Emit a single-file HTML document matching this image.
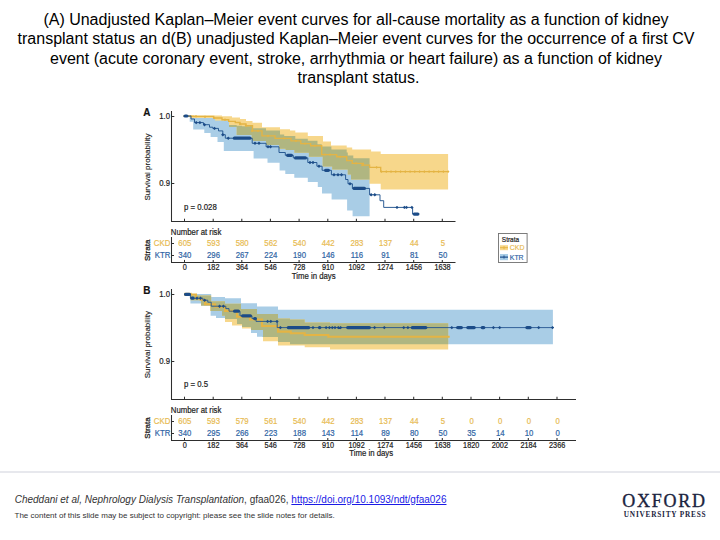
<!DOCTYPE html>
<html><head><meta charset="utf-8"><style>
html,body{margin:0;padding:0;background:#fff;}
body{width:720px;height:540px;position:relative;overflow:hidden;font-family:'Liberation Sans',sans-serif;}
#title{position:absolute;left:0;top:10.4px;width:712px;text-align:center;font-size:16px;line-height:19.1px;color:#000;}
#rule{position:absolute;left:0;top:471px;width:720px;height:2px;background:#e7e8ed;}
#cite{position:absolute;left:14.7px;top:494px;font-size:10px;line-height:12px;color:#333;white-space:nowrap;}
#cite a{color:#1a1ae6;text-decoration:underline;}
#note{position:absolute;left:14.5px;top:511px;font-size:8px;line-height:10px;color:#333;white-space:nowrap;}
#oup1{position:absolute;left:622.3px;top:491.6px;font-family:'Liberation Serif',serif;font-size:18px;line-height:18px;letter-spacing:1.75px;color:#1b2440;white-space:nowrap;-webkit-text-stroke:0.35px #1b2440;}
#oup2{position:absolute;left:623.8px;top:509.9px;font-family:'Liberation Serif',serif;font-size:7.3px;line-height:9px;letter-spacing:0.78px;color:#1b2440;white-space:nowrap;font-weight:bold;}
svg{position:absolute;left:0;top:0;}
</style></head><body>
<div id="title">(A) Unadjusted Kaplan–Meier event curves for all-cause mortality as a function of kidney<br>transplant status an d(B) unadjusted Kaplan–Meier event curves for the occurrence of a first CV<br>event (acute coronary event, stroke, arrhythmia or heart failure) as a function of kidney<br><span style="position:relative;left:2.5px">transplant status.</span></div>
<svg width="720" height="540" viewBox="0 0 720 540">
<defs><clipPath id="ca"><path d="M183.5,116.5 L190.0,116.5 L190.0,118.0 L215.0,118.0 L215.0,120.5 L229.0,120.5 L229.0,125.0 L236.7,125.0 L236.7,125.7 L242.0,125.7 L242.0,126.2 L250.0,126.2 L250.0,126.0 L253.0,126.0 L253.0,128.3 L266.0,128.3 L266.0,130.6 L280.0,130.6 L280.0,134.5 L284.2,134.5 L284.2,136.0 L295.3,136.0 L295.3,138.8 L307.8,138.8 L307.8,140.8 L317.5,140.8 L317.5,144.3 L321.7,144.3 L321.7,146.4 L331.4,146.4 L331.4,149.4 L346.7,149.4 L346.7,152.5 L347.8,152.5 L347.8,155.6 L353.3,155.6 L353.3,158.3 L369.6,158.3 L369.6,216.3 L352.6,216.3 L352.6,210.4 L347.1,210.4 L347.1,199.6 L331.6,199.6 L331.6,193.5 L322.0,193.5 L322.0,187.0 L317.8,187.0 L317.8,182.0 L307.8,182.0 L307.8,177.7 L294.3,177.7 L294.3,174.0 L285.3,174.0 L285.3,170.6 L279.6,170.6 L279.6,162.8 L267.5,162.8 L267.5,158.6 L253.6,158.6 L253.6,151.0 L223.8,151.0 L223.8,141.9 L217.5,141.9 L217.5,137.1 L210.6,137.1 L210.6,132.9 L204.3,132.9 L204.3,129.4 L193.2,129.4 L193.2,121.8 L189.7,121.8 L189.7,116.3 L183.5,116.3 Z"/></clipPath></defs>
<path d="M183.5,116.5 L190.0,116.5 L190.0,118.0 L215.0,118.0 L215.0,120.5 L229.0,120.5 L229.0,125.0 L236.7,125.0 L236.7,125.7 L242.0,125.7 L242.0,126.2 L250.0,126.2 L250.0,126.0 L253.0,126.0 L253.0,128.3 L266.0,128.3 L266.0,130.6 L280.0,130.6 L280.0,134.5 L284.2,134.5 L284.2,136.0 L295.3,136.0 L295.3,138.8 L307.8,138.8 L307.8,140.8 L317.5,140.8 L317.5,144.3 L321.7,144.3 L321.7,146.4 L331.4,146.4 L331.4,149.4 L346.7,149.4 L346.7,152.5 L347.8,152.5 L347.8,155.6 L353.3,155.6 L353.3,158.3 L369.6,158.3 L369.6,216.3 L352.6,216.3 L352.6,210.4 L347.1,210.4 L347.1,199.6 L331.6,199.6 L331.6,193.5 L322.0,193.5 L322.0,187.0 L317.8,187.0 L317.8,182.0 L307.8,182.0 L307.8,177.7 L294.3,177.7 L294.3,174.0 L285.3,174.0 L285.3,170.6 L279.6,170.6 L279.6,162.8 L267.5,162.8 L267.5,158.6 L253.6,158.6 L253.6,151.0 L223.8,151.0 L223.8,141.9 L217.5,141.9 L217.5,137.1 L210.6,137.1 L210.6,132.9 L204.3,132.9 L204.3,129.4 L193.2,129.4 L193.2,121.8 L189.7,121.8 L189.7,116.3 L183.5,116.3 Z" fill="#a9cde6"/>
<path d="M183.5,115.5 L210.0,115.5 L210.0,115.6 L222.0,115.6 L222.0,116.3 L232.0,116.3 L232.0,117.5 L240.0,117.5 L240.0,119.0 L246.0,119.0 L246.0,121.0 L252.5,121.0 L252.5,122.8 L262.0,122.8 L262.0,127.3 L280.0,127.3 L280.0,129.3 L290.0,129.3 L290.0,130.5 L295.3,130.5 L295.3,132.5 L307.8,132.5 L307.8,136.0 L323.0,136.0 L323.0,141.5 L331.0,141.5 L331.0,145.4 L346.7,145.4 L346.7,147.6 L352.2,147.6 L352.2,149.4 L371.1,149.4 L371.1,151.6 L380.7,151.6 L380.7,154.1 L448.1,154.1 L448.1,189.6 L380.7,189.6 L380.7,183.7 L369.6,183.7 L369.6,179.5 L351.0,179.5 L351.0,174.5 L347.8,174.5 L347.8,169.6 L332.2,169.6 L332.2,166.5 L322.7,166.5 L322.7,156.7 L308.9,156.7 L308.9,152.8 L294.4,152.8 L294.4,149.9 L285.6,149.9 L285.6,148.7 L279.2,148.7 L279.2,144.9 L266.0,144.9 L266.0,141.0 L253.0,141.0 L253.0,140.0 L251.7,140.0 L251.7,135.0 L236.7,135.0 L236.7,127.0 L229.0,127.0 L229.0,120.5 L215.0,120.5 L215.0,118.0 L190.0,118.0 L190.0,116.5 L183.5,116.5 Z" fill="#f7d78b"/>
<path d="M183.5,115.5 L210.0,115.5 L210.0,115.6 L222.0,115.6 L222.0,116.3 L232.0,116.3 L232.0,117.5 L240.0,117.5 L240.0,119.0 L246.0,119.0 L246.0,121.0 L252.5,121.0 L252.5,122.8 L262.0,122.8 L262.0,127.3 L280.0,127.3 L280.0,129.3 L290.0,129.3 L290.0,130.5 L295.3,130.5 L295.3,132.5 L307.8,132.5 L307.8,136.0 L323.0,136.0 L323.0,141.5 L331.0,141.5 L331.0,145.4 L346.7,145.4 L346.7,147.6 L352.2,147.6 L352.2,149.4 L371.1,149.4 L371.1,151.6 L380.7,151.6 L380.7,154.1 L448.1,154.1 L448.1,189.6 L380.7,189.6 L380.7,183.7 L369.6,183.7 L369.6,179.5 L351.0,179.5 L351.0,174.5 L347.8,174.5 L347.8,169.6 L332.2,169.6 L332.2,166.5 L322.7,166.5 L322.7,156.7 L308.9,156.7 L308.9,152.8 L294.4,152.8 L294.4,149.9 L285.6,149.9 L285.6,148.7 L279.2,148.7 L279.2,144.9 L266.0,144.9 L266.0,141.0 L253.0,141.0 L253.0,140.0 L251.7,140.0 L251.7,135.0 L236.7,135.0 L236.7,127.0 L229.0,127.0 L229.0,120.5 L215.0,120.5 L215.0,118.0 L190.0,118.0 L190.0,116.5 L183.5,116.5 Z" fill="#b0b681" clip-path="url(#ca)"/>
<path d="M183.5,116.2 L193.7,116.2 L193.7,116.3 L213.7,116.3 L213.7,118.0 L222.0,118.0 L222.0,119.7 L228.7,119.7 L228.7,121.3 L235.3,121.3 L235.3,122.5 L240.0,122.5 L240.0,124.0 L246.0,124.0 L246.0,125.7 L252.5,125.7 L252.5,130.9 L262.0,130.9 L262.0,135.8 L275.0,135.8 L275.0,138.4 L291.0,138.4 L291.0,140.8 L300.8,140.8 L300.8,143.6 L310.6,143.6 L310.6,145.7 L321.7,145.7 L321.7,154.6 L336.7,154.6 L336.7,156.7 L346.7,156.7 L346.7,160.6 L352.2,160.6 L352.2,163.3 L363.3,163.3 L363.3,165.1 L369.6,165.1 L369.6,167.4 L380.7,167.4 L380.7,171.6 L448.1,171.6" fill="none" stroke="#e4b444" stroke-width="1.35"/>
<path d="M189.65,116.30l1.35,-1.35l1.35,1.35l-1.35,1.35z M194.65,116.30l1.35,-1.35l1.35,1.35l-1.35,1.35z M203.65,116.80l1.35,-1.35l1.35,1.35l-1.35,1.35z M212.65,118.00l1.35,-1.35l1.35,1.35l-1.35,1.35z M223.65,119.70l1.35,-1.35l1.35,1.35l-1.35,1.35z M238.65,124.00l1.35,-1.35l1.35,1.35l-1.35,1.35z M244.65,125.70l1.35,-1.35l1.35,1.35l-1.35,1.35z M250.65,130.90l1.35,-1.35l1.35,1.35l-1.35,1.35z M256.65,130.90l1.35,-1.35l1.35,1.35l-1.35,1.35z M266.65,135.80l1.35,-1.35l1.35,1.35l-1.35,1.35z M282.65,138.40l1.35,-1.35l1.35,1.35l-1.35,1.35z M294.65,140.80l1.35,-1.35l1.35,1.35l-1.35,1.35z M303.65,143.60l1.35,-1.35l1.35,1.35l-1.35,1.35z M313.65,145.70l1.35,-1.35l1.35,1.35l-1.35,1.35z M323.65,154.60l1.35,-1.35l1.35,1.35l-1.35,1.35z M328.65,154.60l1.35,-1.35l1.35,1.35l-1.35,1.35z M338.65,156.70l1.35,-1.35l1.35,1.35l-1.35,1.35z M354.65,163.30l1.35,-1.35l1.35,1.35l-1.35,1.35z M360.85,165.10l1.35,-1.35l1.35,1.35l-1.35,1.35z M375.25,167.40l1.35,-1.35l1.35,1.35l-1.35,1.35z M380.15,171.60l1.35,-1.35l1.35,1.35l-1.35,1.35z M384.91,171.60l1.35,-1.35l1.35,1.35l-1.35,1.35z M389.67,171.60l1.35,-1.35l1.35,1.35l-1.35,1.35z M394.43,171.60l1.35,-1.35l1.35,1.35l-1.35,1.35z M399.19,171.60l1.35,-1.35l1.35,1.35l-1.35,1.35z M403.95,171.60l1.35,-1.35l1.35,1.35l-1.35,1.35z M408.71,171.60l1.35,-1.35l1.35,1.35l-1.35,1.35z M413.47,171.60l1.35,-1.35l1.35,1.35l-1.35,1.35z M418.23,171.60l1.35,-1.35l1.35,1.35l-1.35,1.35z M422.99,171.60l1.35,-1.35l1.35,1.35l-1.35,1.35z M427.75,171.60l1.35,-1.35l1.35,1.35l-1.35,1.35z M432.51,171.60l1.35,-1.35l1.35,1.35l-1.35,1.35z M437.27,171.60l1.35,-1.35l1.35,1.35l-1.35,1.35z M442.03,171.60l1.35,-1.35l1.35,1.35l-1.35,1.35z M446.79,171.60l1.35,-1.35l1.35,1.35l-1.35,1.35z" fill="#e4b444"/>
<path d="M183.5,116.0 L188.2,116.0 L188.2,116.0 L191.0,116.0 L191.0,119.0 L194.5,119.0 L194.5,122.6 L203.5,122.6 L203.5,124.7 L209.5,124.7 L209.5,127.2 L212.8,127.2 L212.8,128.4 L218.5,128.4 L218.5,130.9 L222.8,130.9 L222.8,134.7 L225.3,134.7 L225.3,138.2 L252.2,138.2 L252.2,143.3 L266.1,143.3 L266.1,146.8 L279.0,146.8 L279.0,152.5 L285.3,152.5 L285.3,155.3 L293.3,155.3 L293.3,157.9 L307.8,157.9 L307.8,162.5 L316.9,162.5 L316.9,166.2 L322.1,166.2 L322.1,170.3 L331.4,170.3 L331.4,174.8 L345.6,174.8 L345.6,179.5 L348.0,179.5 L348.0,183.8 L352.4,183.8 L352.4,188.4 L369.6,188.4 L369.6,194.8 L380.0,194.8 L380.0,200.7 L383.7,200.7 L383.7,207.4 L412.6,207.4 L412.6,214.1 L418.5,214.1" fill="none" stroke="#22548f" stroke-width="0.95"/>
<path d="M194.50,122.60l1.70,-1.70l1.70,1.70l-1.70,1.70z M198.20,122.60l1.70,-1.70l1.70,1.70l-1.70,1.70z M202.80,124.70l1.70,-1.70l1.70,1.70l-1.70,1.70z M212.80,128.40l1.70,-1.70l1.70,1.70l-1.70,1.70z M221.10,134.70l1.70,-1.70l1.70,1.70l-1.70,1.70z M226.55,138.20l1.70,-1.70l1.70,1.70l-1.70,1.70z M253.30,143.30l1.70,-1.70l1.70,1.70l-1.70,1.70z M257.30,143.30l1.70,-1.70l1.70,1.70l-1.70,1.70z M266.30,146.80l1.70,-1.70l1.70,1.70l-1.70,1.70z M268.80,146.80l1.70,-1.70l1.70,1.70l-1.70,1.70z M308.30,162.50l1.70,-1.70l1.70,1.70l-1.70,1.70z M311.30,162.50l1.70,-1.70l1.70,1.70l-1.70,1.70z M317.30,166.20l1.70,-1.70l1.70,1.70l-1.70,1.70z M332.30,174.80l1.70,-1.70l1.70,1.70l-1.70,1.70z M336.30,174.80l1.70,-1.70l1.70,1.70l-1.70,1.70z M339.80,174.80l1.70,-1.70l1.70,1.70l-1.70,1.70z M348.30,183.80l1.70,-1.70l1.70,1.70l-1.70,1.70z M369.40,194.80l1.70,-1.70l1.70,1.70l-1.70,1.70z M373.10,194.80l1.70,-1.70l1.70,1.70l-1.70,1.70z M395.30,207.40l1.70,-1.70l1.70,1.70l-1.70,1.70z M402.70,207.40l1.70,-1.70l1.70,1.70l-1.70,1.70z M404.80,207.40l1.70,-1.70l1.70,1.70l-1.70,1.70z M410.20,207.40l1.70,-1.70l1.70,1.70l-1.70,1.70z" fill="#1c4c88"/>
<rect x="183.5" y="114.4" width="5.0" height="3.2" rx="1.6" fill="#1c4c88"/>
<rect x="232.8" y="136.6" width="18.7" height="3.2" rx="1.6" fill="#1c4c88"/>
<rect x="286.0" y="153.7" width="7.0" height="3.2" rx="1.6" fill="#1c4c88"/>
<rect x="294.0" y="156.3" width="13.0" height="3.2" rx="1.6" fill="#1c4c88"/>
<rect x="324.0" y="168.7" width="6.0" height="3.2" rx="1.6" fill="#1c4c88"/>
<rect x="352.5" y="186.8" width="13.5" height="3.2" rx="1.6" fill="#1c4c88"/>
<rect x="412.6" y="212.5" width="6.9" height="3.2" rx="1.6" fill="#1c4c88"/>
<g stroke="#2e2e2e" stroke-width="1.05" fill="none">
<path d="M171.5,111 V221.5 H455.5"/>
<path d="M171.5,116.5 H174.3 M171.5,183.5 H174.3"/>
<path d="M184.5,221.5 V218.7"/>
<path d="M213.2,221.5 V218.7"/>
<path d="M241.8,221.5 V218.7"/>
<path d="M270.4,221.5 V218.7"/>
<path d="M299.1,221.5 V218.7"/>
<path d="M327.8,221.5 V218.7"/>
<path d="M356.4,221.5 V218.7"/>
<path d="M385.0,221.5 V218.7"/>
<path d="M413.7,221.5 V218.7"/>
<path d="M442.3,221.5 V218.7"/>
<path d="M171.5,237 V262.5 H455.5"/>
<path d="M171.5,243.5 H174 M171.5,255.5 H174"/>
<path d="M184.5,262.5 V259.9"/>
<path d="M213.2,262.5 V259.9"/>
<path d="M241.8,262.5 V259.9"/>
<path d="M270.4,262.5 V259.9"/>
<path d="M299.1,262.5 V259.9"/>
<path d="M327.8,262.5 V259.9"/>
<path d="M356.4,262.5 V259.9"/>
<path d="M385.0,262.5 V259.9"/>
<path d="M413.7,262.5 V259.9"/>
<path d="M442.3,262.5 V259.9"/>
</g>
<text transform="translate(170.00,119.20) scale(1,1.17)" font-family="'Liberation Sans',sans-serif" font-size="7.8" fill="#222" stroke="#222" stroke-width="0.18" text-anchor="end" font-weight="normal" >1.0</text>
<text transform="translate(170.00,185.80) scale(1,1.17)" font-family="'Liberation Sans',sans-serif" font-size="7.8" fill="#222" stroke="#222" stroke-width="0.18" text-anchor="end" font-weight="normal" >0.9</text>
<text transform="translate(184.10,209.60) scale(1,1.17)" font-family="'Liberation Sans',sans-serif" font-size="7.8" fill="#222" stroke="#222" stroke-width="0.18" text-anchor="start" font-weight="normal" >p = 0.028</text>
<text transform="translate(170.80,234.80) scale(1,1.17)" font-family="'Liberation Sans',sans-serif" font-size="7.8" fill="#222" stroke="#222" stroke-width="0.18" text-anchor="start" font-weight="normal" >Number at risk</text>
<text transform="translate(149.9,167) rotate(-90)" text-anchor="middle" font-family="'Liberation Sans',sans-serif" font-size="8" fill="#222" stroke="#222" stroke-width="0.15">Survival probability</text>
<text transform="translate(149.7,250.3) rotate(-90)" text-anchor="middle" font-family="'Liberation Sans',sans-serif" font-size="8" fill="#222" stroke="#222" stroke-width="0.3">Strata</text>
<text transform="translate(184.70,270.20) scale(1,1.25)" font-family="'Liberation Sans',sans-serif" font-size="7.3" fill="#222" stroke="#222" stroke-width="0.18" text-anchor="middle" font-weight="normal" >0</text>
<text transform="translate(213.35,270.20) scale(1,1.25)" font-family="'Liberation Sans',sans-serif" font-size="7.3" fill="#222" stroke="#222" stroke-width="0.18" text-anchor="middle" font-weight="normal" >182</text>
<text transform="translate(242.00,270.20) scale(1,1.25)" font-family="'Liberation Sans',sans-serif" font-size="7.3" fill="#222" stroke="#222" stroke-width="0.18" text-anchor="middle" font-weight="normal" >364</text>
<text transform="translate(270.65,270.20) scale(1,1.25)" font-family="'Liberation Sans',sans-serif" font-size="7.3" fill="#222" stroke="#222" stroke-width="0.18" text-anchor="middle" font-weight="normal" >546</text>
<text transform="translate(299.30,270.20) scale(1,1.25)" font-family="'Liberation Sans',sans-serif" font-size="7.3" fill="#222" stroke="#222" stroke-width="0.18" text-anchor="middle" font-weight="normal" >728</text>
<text transform="translate(327.95,270.20) scale(1,1.25)" font-family="'Liberation Sans',sans-serif" font-size="7.3" fill="#222" stroke="#222" stroke-width="0.18" text-anchor="middle" font-weight="normal" >910</text>
<text transform="translate(356.60,270.20) scale(1,1.25)" font-family="'Liberation Sans',sans-serif" font-size="7.3" fill="#222" stroke="#222" stroke-width="0.18" text-anchor="middle" font-weight="normal" >1092</text>
<text transform="translate(385.25,270.20) scale(1,1.25)" font-family="'Liberation Sans',sans-serif" font-size="7.3" fill="#222" stroke="#222" stroke-width="0.18" text-anchor="middle" font-weight="normal" >1274</text>
<text transform="translate(413.90,270.20) scale(1,1.25)" font-family="'Liberation Sans',sans-serif" font-size="7.3" fill="#222" stroke="#222" stroke-width="0.18" text-anchor="middle" font-weight="normal" >1456</text>
<text transform="translate(442.55,270.20) scale(1,1.25)" font-family="'Liberation Sans',sans-serif" font-size="7.3" fill="#222" stroke="#222" stroke-width="0.18" text-anchor="middle" font-weight="normal" >1638</text>
<text transform="translate(291.80,278.70) scale(1,1.17)" font-family="'Liberation Sans',sans-serif" font-size="7.8" fill="#222" stroke="#222" stroke-width="0.18" text-anchor="start" font-weight="normal" >Time in days</text>
<text transform="translate(143.30,115.90) scale(1,1.12)" font-family="'Liberation Sans',sans-serif" font-size="10" fill="#111" stroke="#111" stroke-width="0.18" text-anchor="start" font-weight="bold" >A</text>
<text transform="translate(170.30,246.30) scale(1,1.17)" font-family="'Liberation Sans',sans-serif" font-size="7.8" fill="#e8bb52" stroke="#e8bb52" stroke-width="0.18" text-anchor="end" font-weight="normal" >CKD</text>
<text transform="translate(170.30,258.10) scale(1,1.17)" font-family="'Liberation Sans',sans-serif" font-size="7.8" fill="#3065a5" stroke="#3065a5" stroke-width="0.18" text-anchor="end" font-weight="normal" >KTR</text>
<text transform="translate(184.80,246.30) scale(1,1.17)" font-family="'Liberation Sans',sans-serif" font-size="7.8" fill="#e8bb52" stroke="#e8bb52" stroke-width="0.18" text-anchor="middle" font-weight="normal" >605</text>
<text transform="translate(213.48,246.30) scale(1,1.17)" font-family="'Liberation Sans',sans-serif" font-size="7.8" fill="#e8bb52" stroke="#e8bb52" stroke-width="0.18" text-anchor="middle" font-weight="normal" >593</text>
<text transform="translate(242.16,246.30) scale(1,1.17)" font-family="'Liberation Sans',sans-serif" font-size="7.8" fill="#e8bb52" stroke="#e8bb52" stroke-width="0.18" text-anchor="middle" font-weight="normal" >580</text>
<text transform="translate(270.84,246.30) scale(1,1.17)" font-family="'Liberation Sans',sans-serif" font-size="7.8" fill="#e8bb52" stroke="#e8bb52" stroke-width="0.18" text-anchor="middle" font-weight="normal" >562</text>
<text transform="translate(299.52,246.30) scale(1,1.17)" font-family="'Liberation Sans',sans-serif" font-size="7.8" fill="#e8bb52" stroke="#e8bb52" stroke-width="0.18" text-anchor="middle" font-weight="normal" >540</text>
<text transform="translate(328.20,246.30) scale(1,1.17)" font-family="'Liberation Sans',sans-serif" font-size="7.8" fill="#e8bb52" stroke="#e8bb52" stroke-width="0.18" text-anchor="middle" font-weight="normal" >442</text>
<text transform="translate(356.88,246.30) scale(1,1.17)" font-family="'Liberation Sans',sans-serif" font-size="7.8" fill="#e8bb52" stroke="#e8bb52" stroke-width="0.18" text-anchor="middle" font-weight="normal" >283</text>
<text transform="translate(385.56,246.30) scale(1,1.17)" font-family="'Liberation Sans',sans-serif" font-size="7.8" fill="#e8bb52" stroke="#e8bb52" stroke-width="0.18" text-anchor="middle" font-weight="normal" >137</text>
<text transform="translate(414.24,246.30) scale(1,1.17)" font-family="'Liberation Sans',sans-serif" font-size="7.8" fill="#e8bb52" stroke="#e8bb52" stroke-width="0.18" text-anchor="middle" font-weight="normal" >44</text>
<text transform="translate(442.92,246.30) scale(1,1.17)" font-family="'Liberation Sans',sans-serif" font-size="7.8" fill="#e8bb52" stroke="#e8bb52" stroke-width="0.18" text-anchor="middle" font-weight="normal" >5</text>
<text transform="translate(184.80,258.10) scale(1,1.17)" font-family="'Liberation Sans',sans-serif" font-size="7.8" fill="#3065a5" stroke="#3065a5" stroke-width="0.18" text-anchor="middle" font-weight="normal" >340</text>
<text transform="translate(213.48,258.10) scale(1,1.17)" font-family="'Liberation Sans',sans-serif" font-size="7.8" fill="#3065a5" stroke="#3065a5" stroke-width="0.18" text-anchor="middle" font-weight="normal" >296</text>
<text transform="translate(242.16,258.10) scale(1,1.17)" font-family="'Liberation Sans',sans-serif" font-size="7.8" fill="#3065a5" stroke="#3065a5" stroke-width="0.18" text-anchor="middle" font-weight="normal" >267</text>
<text transform="translate(270.84,258.10) scale(1,1.17)" font-family="'Liberation Sans',sans-serif" font-size="7.8" fill="#3065a5" stroke="#3065a5" stroke-width="0.18" text-anchor="middle" font-weight="normal" >224</text>
<text transform="translate(299.52,258.10) scale(1,1.17)" font-family="'Liberation Sans',sans-serif" font-size="7.8" fill="#3065a5" stroke="#3065a5" stroke-width="0.18" text-anchor="middle" font-weight="normal" >190</text>
<text transform="translate(328.20,258.10) scale(1,1.17)" font-family="'Liberation Sans',sans-serif" font-size="7.8" fill="#3065a5" stroke="#3065a5" stroke-width="0.18" text-anchor="middle" font-weight="normal" >146</text>
<text transform="translate(356.88,258.10) scale(1,1.17)" font-family="'Liberation Sans',sans-serif" font-size="7.8" fill="#3065a5" stroke="#3065a5" stroke-width="0.18" text-anchor="middle" font-weight="normal" >116</text>
<text transform="translate(385.56,258.10) scale(1,1.17)" font-family="'Liberation Sans',sans-serif" font-size="7.8" fill="#3065a5" stroke="#3065a5" stroke-width="0.18" text-anchor="middle" font-weight="normal" >91</text>
<text transform="translate(414.24,258.10) scale(1,1.17)" font-family="'Liberation Sans',sans-serif" font-size="7.8" fill="#3065a5" stroke="#3065a5" stroke-width="0.18" text-anchor="middle" font-weight="normal" >81</text>
<text transform="translate(442.92,258.10) scale(1,1.17)" font-family="'Liberation Sans',sans-serif" font-size="7.8" fill="#3065a5" stroke="#3065a5" stroke-width="0.18" text-anchor="middle" font-weight="normal" >50</text>
<rect x="498.5" y="233.5" width="28.6" height="29" fill="#fff" stroke="#707070" stroke-width="0.9"/>
<text transform="translate(501.80,241.80) scale(1,1.12)" font-family="'Liberation Sans',sans-serif" font-size="6.5" fill="#222" stroke="#222" stroke-width="0.18" text-anchor="start" font-weight="normal" >Strata</text>
<rect x="500" y="245.2" width="8" height="5" fill="#f7d78b"/>
<path d="M500,247.7 H508 M504,246.2 V249.2" stroke="#e4b444" stroke-width="1"/>
<rect x="500" y="254" width="8" height="6.2" fill="#a9cde6"/>
<path d="M500,257.1 H508 M504,255.6 V258.6" stroke="#22548f" stroke-width="1.1"/>
<text transform="translate(509.80,250.10) scale(1,1.1)" font-family="'Liberation Sans',sans-serif" font-size="6.9" fill="#e8bb52" stroke="#e8bb52" stroke-width="0.18" text-anchor="start" font-weight="normal" >CKD</text>
<text transform="translate(509.80,259.90) scale(1,1.15)" font-family="'Liberation Sans',sans-serif" font-size="6.9" fill="#3065a5" stroke="#3065a5" stroke-width="0.18" text-anchor="start" font-weight="normal" >KTR</text>
<defs><clipPath id="cb"><path d="M184.0,294.0 L190.4,294.0 L190.4,293.9 L211.2,293.9 L211.2,297.0 L225.0,297.0 L225.0,298.2 L241.0,298.2 L241.0,303.3 L257.0,303.3 L257.0,306.6 L278.0,306.6 L278.0,309.8 L552.9,309.8 L552.9,344.2 L290.0,344.2 L290.0,342.0 L278.0,342.0 L278.0,337.0 L262.0,337.0 L262.0,336.7 L257.0,336.7 L257.0,333.0 L251.0,333.0 L251.0,327.0 L242.0,327.0 L242.0,324.0 L237.0,324.0 L237.0,319.0 L225.0,319.0 L225.0,317.9 L216.0,317.9 L216.0,315.8 L210.6,315.8 L210.6,306.0 L201.0,306.0 L201.0,303.6 L190.4,303.6 L190.4,295.5 L184.0,295.5 Z"/></clipPath></defs>
<path d="M184.0,294.0 L190.4,294.0 L190.4,293.9 L211.2,293.9 L211.2,297.0 L225.0,297.0 L225.0,298.2 L241.0,298.2 L241.0,303.3 L257.0,303.3 L257.0,306.6 L278.0,306.6 L278.0,309.8 L552.9,309.8 L552.9,344.2 L290.0,344.2 L290.0,342.0 L278.0,342.0 L278.0,337.0 L262.0,337.0 L262.0,336.7 L257.0,336.7 L257.0,333.0 L251.0,333.0 L251.0,327.0 L242.0,327.0 L242.0,324.0 L237.0,324.0 L237.0,319.0 L225.0,319.0 L225.0,317.9 L216.0,317.9 L216.0,315.8 L210.6,315.8 L210.6,306.0 L201.0,306.0 L201.0,303.6 L190.4,303.6 L190.4,295.5 L184.0,295.5 Z" fill="#a9cde6"/>
<path d="M184.0,292.8 L192.0,292.8 L192.0,295.5 L200.0,295.5 L200.0,295.6 L211.2,295.6 L211.2,301.2 L225.0,301.2 L225.0,303.8 L241.0,303.8 L241.0,308.9 L257.0,308.9 L257.0,314.0 L278.0,314.0 L278.0,318.6 L290.0,318.6 L290.0,319.4 L304.7,319.4 L304.7,322.5 L330.0,322.5 L330.0,323.3 L448.2,323.3 L448.2,349.5 L330.0,349.5 L330.0,347.2 L304.7,347.2 L304.7,345.5 L278.0,345.5 L278.0,341.3 L263.0,341.3 L263.0,330.0 L251.0,330.0 L251.0,328.5 L242.0,328.5 L242.0,325.6 L232.0,325.6 L232.0,321.9 L225.0,321.9 L225.0,315.8 L222.0,315.8 L222.0,310.9 L210.0,310.9 L210.0,305.4 L201.0,305.4 L201.0,300.2 L190.4,300.2 L190.4,295.5 L184.0,295.5 Z" fill="#f7d78b"/>
<path d="M184.0,292.8 L192.0,292.8 L192.0,295.5 L200.0,295.5 L200.0,295.6 L211.2,295.6 L211.2,301.2 L225.0,301.2 L225.0,303.8 L241.0,303.8 L241.0,308.9 L257.0,308.9 L257.0,314.0 L278.0,314.0 L278.0,318.6 L290.0,318.6 L290.0,319.4 L304.7,319.4 L304.7,322.5 L330.0,322.5 L330.0,323.3 L448.2,323.3 L448.2,349.5 L330.0,349.5 L330.0,347.2 L304.7,347.2 L304.7,345.5 L278.0,345.5 L278.0,341.3 L263.0,341.3 L263.0,330.0 L251.0,330.0 L251.0,328.5 L242.0,328.5 L242.0,325.6 L232.0,325.6 L232.0,321.9 L225.0,321.9 L225.0,315.8 L222.0,315.8 L222.0,310.9 L210.0,310.9 L210.0,305.4 L201.0,305.4 L201.0,300.2 L190.4,300.2 L190.4,295.5 L184.0,295.5 Z" fill="#b0b681" clip-path="url(#cb)"/>
<path d="M184.0,294.5 L196.0,294.5 L196.0,298.5 L200.8,298.5 L200.8,299.8 L205.0,299.8 L205.0,304.3 L215.0,304.3 L215.0,306.8 L225.0,306.8 L225.0,310.9 L237.0,310.9 L237.0,316.8 L250.0,316.8 L250.0,319.5 L262.0,319.5 L262.0,326.0 L278.0,326.0 L278.0,331.6 L290.8,331.6 L290.8,333.3 L304.7,333.3 L304.7,335.0 L328.3,335.0 L328.3,336.8 L449.7,336.8" fill="none" stroke="#e4b444" stroke-width="2.1"/>
<path d="M184.0,294.3 L190.4,294.3 L190.4,298.2 L202.9,298.2 L202.9,300.2 L207.8,300.2 L207.8,302.2 L211.2,302.2 L211.2,306.2 L225.8,306.2 L225.8,308.6 L229.0,308.6 L229.0,311.2 L240.0,311.2 L240.0,315.8 L252.0,315.8 L252.0,318.6 L256.0,318.6 L256.0,321.4 L277.2,321.4 L277.2,327.6 L553.8,327.6" fill="none" stroke="#22548f" stroke-width="0.9"/>
<path d="M195.30,298.20l1.70,-1.70l1.70,1.70l-1.70,1.70z M198.80,298.20l1.70,-1.70l1.70,1.70l-1.70,1.70z M203.00,300.20l1.70,-1.70l1.70,1.70l-1.70,1.70z M217.90,306.20l1.70,-1.70l1.70,1.70l-1.70,1.70z M221.70,306.20l1.70,-1.70l1.70,1.70l-1.70,1.70z M265.90,321.40l1.70,-1.70l1.70,1.70l-1.70,1.70z M269.10,321.40l1.70,-1.70l1.70,1.70l-1.70,1.70z M275.30,321.40l1.70,-1.70l1.70,1.70l-1.70,1.70z M278.70,327.60l1.70,-1.70l1.70,1.70l-1.70,1.70z M311.30,327.60l1.70,-1.70l1.70,1.70l-1.70,1.70z M324.40,327.60l1.70,-1.70l1.70,1.70l-1.70,1.70z M327.70,327.60l1.70,-1.70l1.70,1.70l-1.70,1.70z M330.60,327.60l1.70,-1.70l1.70,1.70l-1.70,1.70z M333.30,327.60l1.70,-1.70l1.70,1.70l-1.70,1.70z M336.60,327.60l1.70,-1.70l1.70,1.70l-1.70,1.70z M338.90,327.60l1.70,-1.70l1.70,1.70l-1.70,1.70z M372.90,327.60l1.70,-1.70l1.70,1.70l-1.70,1.70z M382.60,327.60l1.70,-1.70l1.70,1.70l-1.70,1.70z M402.05,327.60l1.70,-1.70l1.70,1.70l-1.70,1.70z M406.20,327.60l1.70,-1.70l1.70,1.70l-1.70,1.70z M450.10,327.60l1.70,-1.70l1.70,1.70l-1.70,1.70z M455.50,327.60l1.70,-1.70l1.70,1.70l-1.70,1.70z M491.70,327.60l1.70,-1.70l1.70,1.70l-1.70,1.70z M498.00,327.60l1.70,-1.70l1.70,1.70l-1.70,1.70z M537.00,327.60l1.70,-1.70l1.70,1.70l-1.70,1.70z M550.80,327.60l1.70,-1.70l1.70,1.70l-1.70,1.70z" fill="#1c4c88"/>
<rect x="184.0" y="292.7" width="7.0" height="3.2" rx="1.6" fill="#1c4c88"/>
<rect x="190.4" y="296.6" width="4.2" height="3.2" rx="1.6" fill="#1c4c88"/>
<rect x="233.0" y="309.6" width="7.0" height="3.2" rx="1.6" fill="#1c4c88"/>
<rect x="241.0" y="314.2" width="11.0" height="3.2" rx="1.6" fill="#1c4c88"/>
<rect x="253.0" y="317.0" width="4.0" height="3.2" rx="1.6" fill="#1c4c88"/>
<rect x="286.7" y="326.0" width="23.6" height="3.2" rx="1.6" fill="#1c4c88"/>
<rect x="317.9" y="326.0" width="3.5" height="3.2" rx="1.6" fill="#1c4c88"/>
<rect x="346.1" y="326.0" width="24.9" height="3.2" rx="1.6" fill="#1c4c88"/>
<rect x="410.7" y="326.0" width="16.7" height="3.2" rx="1.6" fill="#1c4c88"/>
<rect x="456.6" y="326.0" width="6.4" height="3.2" rx="1.6" fill="#1c4c88"/>
<rect x="466.2" y="326.0" width="9.6" height="3.2" rx="1.6" fill="#1c4c88"/>
<rect x="480.6" y="326.0" width="4.8" height="3.2" rx="1.6" fill="#1c4c88"/>
<rect x="525.3" y="326.0" width="6.4" height="3.2" rx="1.6" fill="#1c4c88"/>
<g stroke="#2e2e2e" stroke-width="1.05" fill="none">
<path d="M171.5,289 V399.5 H576"/>
<path d="M171.5,294.5 H174.3 M171.5,361.5 H174.3"/>
<path d="M184.5,399.5 V396.7"/>
<path d="M213.2,399.5 V396.7"/>
<path d="M241.8,399.5 V396.7"/>
<path d="M270.4,399.5 V396.7"/>
<path d="M299.1,399.5 V396.7"/>
<path d="M327.8,399.5 V396.7"/>
<path d="M356.4,399.5 V396.7"/>
<path d="M385.0,399.5 V396.7"/>
<path d="M413.7,399.5 V396.7"/>
<path d="M442.3,399.5 V396.7"/>
<path d="M471.0,399.5 V396.7"/>
<path d="M499.6,399.5 V396.7"/>
<path d="M528.3,399.5 V396.7"/>
<path d="M557.0,399.5 V396.7"/>
<path d="M171.5,415 V440.5 H576"/>
<path d="M171.5,421.5 H174 M171.5,433.5 H174"/>
<path d="M184.5,440.5 V437.9"/>
<path d="M213.2,440.5 V437.9"/>
<path d="M241.8,440.5 V437.9"/>
<path d="M270.4,440.5 V437.9"/>
<path d="M299.1,440.5 V437.9"/>
<path d="M327.8,440.5 V437.9"/>
<path d="M356.4,440.5 V437.9"/>
<path d="M385.0,440.5 V437.9"/>
<path d="M413.7,440.5 V437.9"/>
<path d="M442.3,440.5 V437.9"/>
<path d="M471.0,440.5 V437.9"/>
<path d="M499.6,440.5 V437.9"/>
<path d="M528.3,440.5 V437.9"/>
<path d="M557.0,440.5 V437.9"/>
</g>
<text transform="translate(170.00,296.90) scale(1,1.17)" font-family="'Liberation Sans',sans-serif" font-size="7.8" fill="#222" stroke="#222" stroke-width="0.18" text-anchor="end" font-weight="normal" >1.0</text>
<text transform="translate(170.00,363.50) scale(1,1.17)" font-family="'Liberation Sans',sans-serif" font-size="7.8" fill="#222" stroke="#222" stroke-width="0.18" text-anchor="end" font-weight="normal" >0.9</text>
<text transform="translate(184.10,387.30) scale(1,1.17)" font-family="'Liberation Sans',sans-serif" font-size="7.8" fill="#222" stroke="#222" stroke-width="0.18" text-anchor="start" font-weight="normal" >p = 0.5</text>
<text transform="translate(170.80,412.50) scale(1,1.17)" font-family="'Liberation Sans',sans-serif" font-size="7.8" fill="#222" stroke="#222" stroke-width="0.18" text-anchor="start" font-weight="normal" >Number at risk</text>
<text transform="translate(149.9,344.7) rotate(-90)" text-anchor="middle" font-family="'Liberation Sans',sans-serif" font-size="8" fill="#222" stroke="#222" stroke-width="0.15">Survival probability</text>
<text transform="translate(149.7,428.0) rotate(-90)" text-anchor="middle" font-family="'Liberation Sans',sans-serif" font-size="8" fill="#222" stroke="#222" stroke-width="0.3">Strata</text>
<text transform="translate(184.70,447.90) scale(1,1.25)" font-family="'Liberation Sans',sans-serif" font-size="7.3" fill="#222" stroke="#222" stroke-width="0.18" text-anchor="middle" font-weight="normal" >0</text>
<text transform="translate(213.35,447.90) scale(1,1.25)" font-family="'Liberation Sans',sans-serif" font-size="7.3" fill="#222" stroke="#222" stroke-width="0.18" text-anchor="middle" font-weight="normal" >182</text>
<text transform="translate(242.00,447.90) scale(1,1.25)" font-family="'Liberation Sans',sans-serif" font-size="7.3" fill="#222" stroke="#222" stroke-width="0.18" text-anchor="middle" font-weight="normal" >364</text>
<text transform="translate(270.65,447.90) scale(1,1.25)" font-family="'Liberation Sans',sans-serif" font-size="7.3" fill="#222" stroke="#222" stroke-width="0.18" text-anchor="middle" font-weight="normal" >546</text>
<text transform="translate(299.30,447.90) scale(1,1.25)" font-family="'Liberation Sans',sans-serif" font-size="7.3" fill="#222" stroke="#222" stroke-width="0.18" text-anchor="middle" font-weight="normal" >728</text>
<text transform="translate(327.95,447.90) scale(1,1.25)" font-family="'Liberation Sans',sans-serif" font-size="7.3" fill="#222" stroke="#222" stroke-width="0.18" text-anchor="middle" font-weight="normal" >910</text>
<text transform="translate(356.60,447.90) scale(1,1.25)" font-family="'Liberation Sans',sans-serif" font-size="7.3" fill="#222" stroke="#222" stroke-width="0.18" text-anchor="middle" font-weight="normal" >1092</text>
<text transform="translate(385.25,447.90) scale(1,1.25)" font-family="'Liberation Sans',sans-serif" font-size="7.3" fill="#222" stroke="#222" stroke-width="0.18" text-anchor="middle" font-weight="normal" >1274</text>
<text transform="translate(413.90,447.90) scale(1,1.25)" font-family="'Liberation Sans',sans-serif" font-size="7.3" fill="#222" stroke="#222" stroke-width="0.18" text-anchor="middle" font-weight="normal" >1456</text>
<text transform="translate(442.55,447.90) scale(1,1.25)" font-family="'Liberation Sans',sans-serif" font-size="7.3" fill="#222" stroke="#222" stroke-width="0.18" text-anchor="middle" font-weight="normal" >1638</text>
<text transform="translate(471.20,447.90) scale(1,1.25)" font-family="'Liberation Sans',sans-serif" font-size="7.3" fill="#222" stroke="#222" stroke-width="0.18" text-anchor="middle" font-weight="normal" >1820</text>
<text transform="translate(499.85,447.90) scale(1,1.25)" font-family="'Liberation Sans',sans-serif" font-size="7.3" fill="#222" stroke="#222" stroke-width="0.18" text-anchor="middle" font-weight="normal" >2002</text>
<text transform="translate(528.50,447.90) scale(1,1.25)" font-family="'Liberation Sans',sans-serif" font-size="7.3" fill="#222" stroke="#222" stroke-width="0.18" text-anchor="middle" font-weight="normal" >2184</text>
<text transform="translate(557.15,447.90) scale(1,1.25)" font-family="'Liberation Sans',sans-serif" font-size="7.3" fill="#222" stroke="#222" stroke-width="0.18" text-anchor="middle" font-weight="normal" >2366</text>
<text transform="translate(349.30,456.40) scale(1,1.17)" font-family="'Liberation Sans',sans-serif" font-size="7.8" fill="#222" stroke="#222" stroke-width="0.18" text-anchor="start" font-weight="normal" >Time in days</text>
<text transform="translate(143.30,294.20) scale(1,1.12)" font-family="'Liberation Sans',sans-serif" font-size="10" fill="#111" stroke="#111" stroke-width="0.18" text-anchor="start" font-weight="bold" >B</text>
<text transform="translate(170.30,424.00) scale(1,1.17)" font-family="'Liberation Sans',sans-serif" font-size="7.8" fill="#e8bb52" stroke="#e8bb52" stroke-width="0.18" text-anchor="end" font-weight="normal" >CKD</text>
<text transform="translate(170.30,435.80) scale(1,1.17)" font-family="'Liberation Sans',sans-serif" font-size="7.8" fill="#3065a5" stroke="#3065a5" stroke-width="0.18" text-anchor="end" font-weight="normal" >KTR</text>
<text transform="translate(184.80,424.00) scale(1,1.17)" font-family="'Liberation Sans',sans-serif" font-size="7.8" fill="#e8bb52" stroke="#e8bb52" stroke-width="0.18" text-anchor="middle" font-weight="normal" >605</text>
<text transform="translate(213.48,424.00) scale(1,1.17)" font-family="'Liberation Sans',sans-serif" font-size="7.8" fill="#e8bb52" stroke="#e8bb52" stroke-width="0.18" text-anchor="middle" font-weight="normal" >593</text>
<text transform="translate(242.16,424.00) scale(1,1.17)" font-family="'Liberation Sans',sans-serif" font-size="7.8" fill="#e8bb52" stroke="#e8bb52" stroke-width="0.18" text-anchor="middle" font-weight="normal" >579</text>
<text transform="translate(270.84,424.00) scale(1,1.17)" font-family="'Liberation Sans',sans-serif" font-size="7.8" fill="#e8bb52" stroke="#e8bb52" stroke-width="0.18" text-anchor="middle" font-weight="normal" >561</text>
<text transform="translate(299.52,424.00) scale(1,1.17)" font-family="'Liberation Sans',sans-serif" font-size="7.8" fill="#e8bb52" stroke="#e8bb52" stroke-width="0.18" text-anchor="middle" font-weight="normal" >540</text>
<text transform="translate(328.20,424.00) scale(1,1.17)" font-family="'Liberation Sans',sans-serif" font-size="7.8" fill="#e8bb52" stroke="#e8bb52" stroke-width="0.18" text-anchor="middle" font-weight="normal" >442</text>
<text transform="translate(356.88,424.00) scale(1,1.17)" font-family="'Liberation Sans',sans-serif" font-size="7.8" fill="#e8bb52" stroke="#e8bb52" stroke-width="0.18" text-anchor="middle" font-weight="normal" >283</text>
<text transform="translate(385.56,424.00) scale(1,1.17)" font-family="'Liberation Sans',sans-serif" font-size="7.8" fill="#e8bb52" stroke="#e8bb52" stroke-width="0.18" text-anchor="middle" font-weight="normal" >137</text>
<text transform="translate(414.24,424.00) scale(1,1.17)" font-family="'Liberation Sans',sans-serif" font-size="7.8" fill="#e8bb52" stroke="#e8bb52" stroke-width="0.18" text-anchor="middle" font-weight="normal" >44</text>
<text transform="translate(442.92,424.00) scale(1,1.17)" font-family="'Liberation Sans',sans-serif" font-size="7.8" fill="#e8bb52" stroke="#e8bb52" stroke-width="0.18" text-anchor="middle" font-weight="normal" >5</text>
<text transform="translate(471.60,424.00) scale(1,1.17)" font-family="'Liberation Sans',sans-serif" font-size="7.8" fill="#e8bb52" stroke="#e8bb52" stroke-width="0.18" text-anchor="middle" font-weight="normal" >0</text>
<text transform="translate(500.28,424.00) scale(1,1.17)" font-family="'Liberation Sans',sans-serif" font-size="7.8" fill="#e8bb52" stroke="#e8bb52" stroke-width="0.18" text-anchor="middle" font-weight="normal" >0</text>
<text transform="translate(528.96,424.00) scale(1,1.17)" font-family="'Liberation Sans',sans-serif" font-size="7.8" fill="#e8bb52" stroke="#e8bb52" stroke-width="0.18" text-anchor="middle" font-weight="normal" >0</text>
<text transform="translate(557.64,424.00) scale(1,1.17)" font-family="'Liberation Sans',sans-serif" font-size="7.8" fill="#e8bb52" stroke="#e8bb52" stroke-width="0.18" text-anchor="middle" font-weight="normal" >0</text>
<text transform="translate(184.80,435.80) scale(1,1.17)" font-family="'Liberation Sans',sans-serif" font-size="7.8" fill="#3065a5" stroke="#3065a5" stroke-width="0.18" text-anchor="middle" font-weight="normal" >340</text>
<text transform="translate(213.48,435.80) scale(1,1.17)" font-family="'Liberation Sans',sans-serif" font-size="7.8" fill="#3065a5" stroke="#3065a5" stroke-width="0.18" text-anchor="middle" font-weight="normal" >295</text>
<text transform="translate(242.16,435.80) scale(1,1.17)" font-family="'Liberation Sans',sans-serif" font-size="7.8" fill="#3065a5" stroke="#3065a5" stroke-width="0.18" text-anchor="middle" font-weight="normal" >266</text>
<text transform="translate(270.84,435.80) scale(1,1.17)" font-family="'Liberation Sans',sans-serif" font-size="7.8" fill="#3065a5" stroke="#3065a5" stroke-width="0.18" text-anchor="middle" font-weight="normal" >223</text>
<text transform="translate(299.52,435.80) scale(1,1.17)" font-family="'Liberation Sans',sans-serif" font-size="7.8" fill="#3065a5" stroke="#3065a5" stroke-width="0.18" text-anchor="middle" font-weight="normal" >188</text>
<text transform="translate(328.20,435.80) scale(1,1.17)" font-family="'Liberation Sans',sans-serif" font-size="7.8" fill="#3065a5" stroke="#3065a5" stroke-width="0.18" text-anchor="middle" font-weight="normal" >143</text>
<text transform="translate(356.88,435.80) scale(1,1.17)" font-family="'Liberation Sans',sans-serif" font-size="7.8" fill="#3065a5" stroke="#3065a5" stroke-width="0.18" text-anchor="middle" font-weight="normal" >114</text>
<text transform="translate(385.56,435.80) scale(1,1.17)" font-family="'Liberation Sans',sans-serif" font-size="7.8" fill="#3065a5" stroke="#3065a5" stroke-width="0.18" text-anchor="middle" font-weight="normal" >89</text>
<text transform="translate(414.24,435.80) scale(1,1.17)" font-family="'Liberation Sans',sans-serif" font-size="7.8" fill="#3065a5" stroke="#3065a5" stroke-width="0.18" text-anchor="middle" font-weight="normal" >80</text>
<text transform="translate(442.92,435.80) scale(1,1.17)" font-family="'Liberation Sans',sans-serif" font-size="7.8" fill="#3065a5" stroke="#3065a5" stroke-width="0.18" text-anchor="middle" font-weight="normal" >50</text>
<text transform="translate(471.60,435.80) scale(1,1.17)" font-family="'Liberation Sans',sans-serif" font-size="7.8" fill="#3065a5" stroke="#3065a5" stroke-width="0.18" text-anchor="middle" font-weight="normal" >35</text>
<text transform="translate(500.28,435.80) scale(1,1.17)" font-family="'Liberation Sans',sans-serif" font-size="7.8" fill="#3065a5" stroke="#3065a5" stroke-width="0.18" text-anchor="middle" font-weight="normal" >14</text>
<text transform="translate(528.96,435.80) scale(1,1.17)" font-family="'Liberation Sans',sans-serif" font-size="7.8" fill="#3065a5" stroke="#3065a5" stroke-width="0.18" text-anchor="middle" font-weight="normal" >10</text>
<text transform="translate(557.64,435.80) scale(1,1.17)" font-family="'Liberation Sans',sans-serif" font-size="7.8" fill="#3065a5" stroke="#3065a5" stroke-width="0.18" text-anchor="middle" font-weight="normal" >0</text>
</svg>
<div id="rule"></div>
<div id="cite"><i>Cheddani et al, Nephrology Dialysis Transplantation</i>, gfaa026, <a>https://doi.org/10.1093/ndt/gfaa026</a></div>
<div id="note">The content of this slide may be subject to copyright: please see the slide notes for details.</div>
<div id="oup1">OXFORD</div>
<div id="oup2">UNIVERSITY PRESS</div>
</body></html>
